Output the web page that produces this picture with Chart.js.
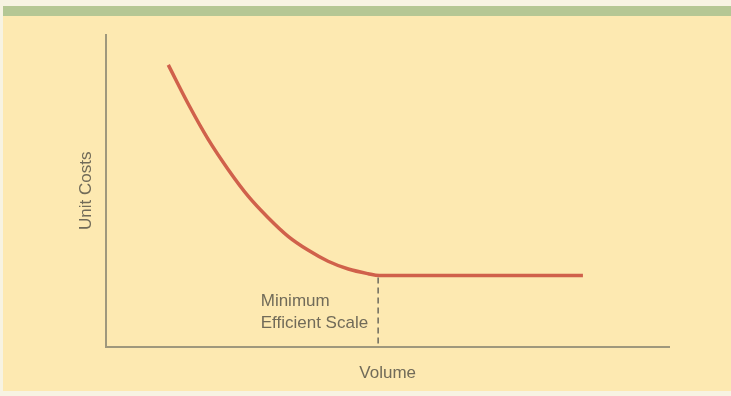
<!DOCTYPE html>
<html>
<head>
<meta charset="utf-8">
<script src="https://cdn.jsdelivr.net/npm/chart.js@4.4.1/dist/chart.umd.min.js"></script>
<style>
  html, body { margin:0; padding:0; background:#f7f3e2; }
  #wrap { position:relative; width:731px; height:396px; overflow:hidden; }
  #panel { position:absolute; left:3px; top:6px; width:728px; height:385px; background:#fde9b1; }
  #band { position:absolute; left:3px; top:6px; width:728px; height:10px; background:#b5c794; }
  #c { position:absolute; left:0; top:0; }
</style>
</head>
<body>
<div id="wrap">
  <div id="panel"></div>
  <div id="band"></div>
  <canvas id="c" width="731" height="396"></canvas>
</div>
<script>
// unit cost curve (volume 0-100, cost 0-100)
const volume   = [11.0, 14.6, 18.1, 21.7, 25.2, 28.8, 32.3, 35.9, 39.4, 43.0, 46.5, 48.5, 60, 72, 84.7];
const unitCost = [90.4, 77.7, 66.5, 56.7, 48.3, 41.3, 35.4, 30.9, 27.4, 24.9, 23.4, 22.8, 22.8, 22.8, 22.8];
const mesVolume = 48.3;   // minimum efficient scale
const mesCost = 22.8;
const mesLabel = ["Minimum", "Efficient Scale"];

const TXT = "#716b59";
const AXIS = "#9f987c";
const FONT = "'Liberation Sans', Arial, sans-serif";

// dashed marker + label at the minimum efficient scale
const mesMarker = {
  id: "mesMarker",
  afterDatasetsDraw(chart) {
    const {ctx, scales:{x, y}} = chart;
    const px = x.getPixelForValue(mesVolume);
    ctx.save();
    ctx.strokeStyle = "#6c6a5e";
    ctx.lineWidth = 1.5;
    ctx.setLineDash([6, 4]);
    ctx.beginPath();
    ctx.moveTo(px, y.getPixelForValue(mesCost) + 2);
    ctx.lineTo(px, y.getPixelForValue(0));
    ctx.stroke();
    ctx.setLineDash([]);
    ctx.font = "17px " + FONT;
    ctx.fillStyle = TXT;
    ctx.textBaseline = "middle";
    const w = Math.max(...mesLabel.map(s => ctx.measureText(s).width));
    const tx = px - 10 - w;
    ctx.fillText(mesLabel[0], tx, 301);
    ctx.fillText(mesLabel[1], tx, 323);
    ctx.restore();
  }
};

new Chart(document.getElementById("c"), {
  type: "line",
  data: {
    datasets: [{
      data: volume.map((v, i) => ({x: v, y: unitCost[i]})),
      borderColor: "#d0614b",
      borderWidth: 3.5,
      pointRadius: 0,
      cubicInterpolationMode: "monotone",
      fill: false
    }]
  },
  options: {
    responsive: false,
    animation: false,
    layout: {padding: {left: 76, right: 62, top: 35, bottom: 12}},
    plugins: {legend: {display: false}, tooltip: {enabled: false}},
    scales: {
      x: {
        type: "linear", min: 0, max: 100,
        grid: {display: false, drawTicks: false},
        border: {display: true, color: AXIS, width: 2},
        ticks: {display: false},
        title: {display: true, text: "Volume", color: TXT, font: {family: FONT, size: 17}, padding: {top: 17, bottom: 0}}
      },
      y: {
        type: "linear", min: 0, max: 100,
        grid: {display: false, drawTicks: false},
        border: {display: true, color: AXIS, width: 2},
        ticks: {display: false},
        title: {display: true, text: "Unit Costs", color: TXT, font: {family: FONT, size: 17}, padding: {top: 0, bottom: 10}}
      }
    }
  },
  plugins: [mesMarker]
});
</script>
</body>
</html>
